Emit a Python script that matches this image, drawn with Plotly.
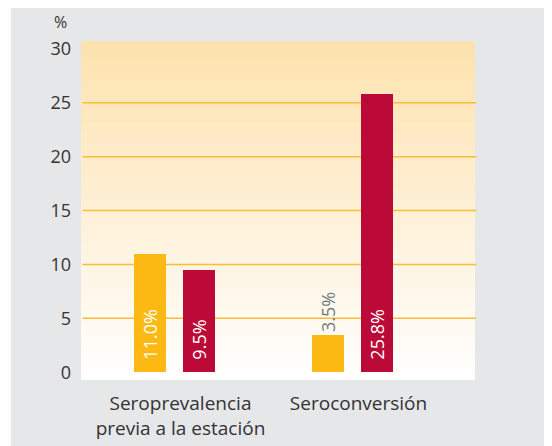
import plotly.graph_objects as go

# ---- data ----
categories = ["Seroprevalencia<br>previa a la estación", "Seroconversión"]
series_orange = [11.0, 3.5]
series_red = [9.5, 25.8]
y_ticks = [0, 5, 10, 15, 20, 25, 30]
grid_values = [5, 10, 15, 20, 25]

ORANGE = "#fdb913"
RED = "#bb0a37"
FONT = "Open Sans"
PAD = "\u00a0\u00a0"

def fmt(v, pad=""):
    return f"{pad}{v:.1f}%"

fig = go.Figure()
fig.add_trace(go.Bar(
    x=categories, y=series_orange,
    width=0.18, offset=-0.2275,
    marker=dict(color=ORANGE, line=dict(width=0)),
    text=[fmt(series_orange[0], PAD), fmt(series_orange[1])],
    textposition=["inside", "outside"],
    insidetextanchor="start",
    textangle=-90,
    insidetextfont=dict(color="white", size=18, family=FONT),
    outsidetextfont=dict(color="#757b81", size=18, family=FONT),
    constraintext="none",
    cliponaxis=False,
    hoverinfo="skip",
    showlegend=False,
))
fig.add_trace(go.Bar(
    x=categories, y=series_red,
    width=0.18, offset=0.0478,
    marker=dict(color=RED, line=dict(width=0)),
    text=[fmt(v, PAD) for v in series_red],
    textposition="inside",
    insidetextanchor="start",
    textangle=-90,
    insidetextfont=dict(color="white", size=18, family=FONT),
    constraintext="none",
    cliponaxis=False,
    hoverinfo="skip",
    showlegend=False,
))

shapes = []
# gray panel
shapes.append(dict(type="rect", xref="paper", yref="paper",
                   x0=-0.1777, x1=1.25, y0=-0.25, y1=1.1036,
                   fillcolor="#e6e7e9", line=dict(width=0), layer="below"))
# gradient plot background
N = 60
top = (253, 226, 174)
bot = (255, 255, 255)
for i in range(N):
    t = (i + 0.5) / N
    c = tuple(round(bot[k] + (top[k] - bot[k]) * t) for k in range(3))
    shapes.append(dict(type="rect", xref="paper", yref="paper",
                       x0=0, x1=1, y0=i / N, y1=(i + 1) / N + 0.002,
                       fillcolor="rgb(%d,%d,%d)" % c, line=dict(width=0),
                       layer="below"))
# grid lines
for g in grid_values:
    shapes.append(dict(type="line", xref="paper", yref="y",
                       x0=0.004, x1=1.003, y0=g, y1=g,
                       line=dict(color="#fbbd36", width=1.5), layer="below"))

# page body has an 8px margin, so the figure is 8px smaller and margins shifted
fig.update_layout(
    width=544, height=438,
    margin=dict(l=73, r=77, t=34, b=66, autoexpand=False),
    paper_bgcolor="white",
    plot_bgcolor="rgba(0,0,0,0)",
    shapes=shapes,
    bargap=0,
    font=dict(family=FONT, color="#333333", size=18),
    xaxis=dict(range=[-0.525, 1.688], showgrid=False, zeroline=False,
               showline=False, ticks="", ticklabelstandoff=10,
               ticklabelshift=6,
               tickfont=dict(size=19, color="#333333")),
    yaxis=dict(range=[-0.72, 30.64], tickvals=y_ticks, showgrid=False,
               zeroline=False, showline=False, ticks="",
               ticklabelstandoff=9, tickfont=dict(size=18, color="#333333")),
    annotations=[dict(text="%", xref="paper", yref="paper",
                      x=-0.03, y=1.059, xanchor="right", yanchor="middle",
                      showarrow=False, font=dict(size=16, color="#333333"))],
)

fig.write_html("out.html")
